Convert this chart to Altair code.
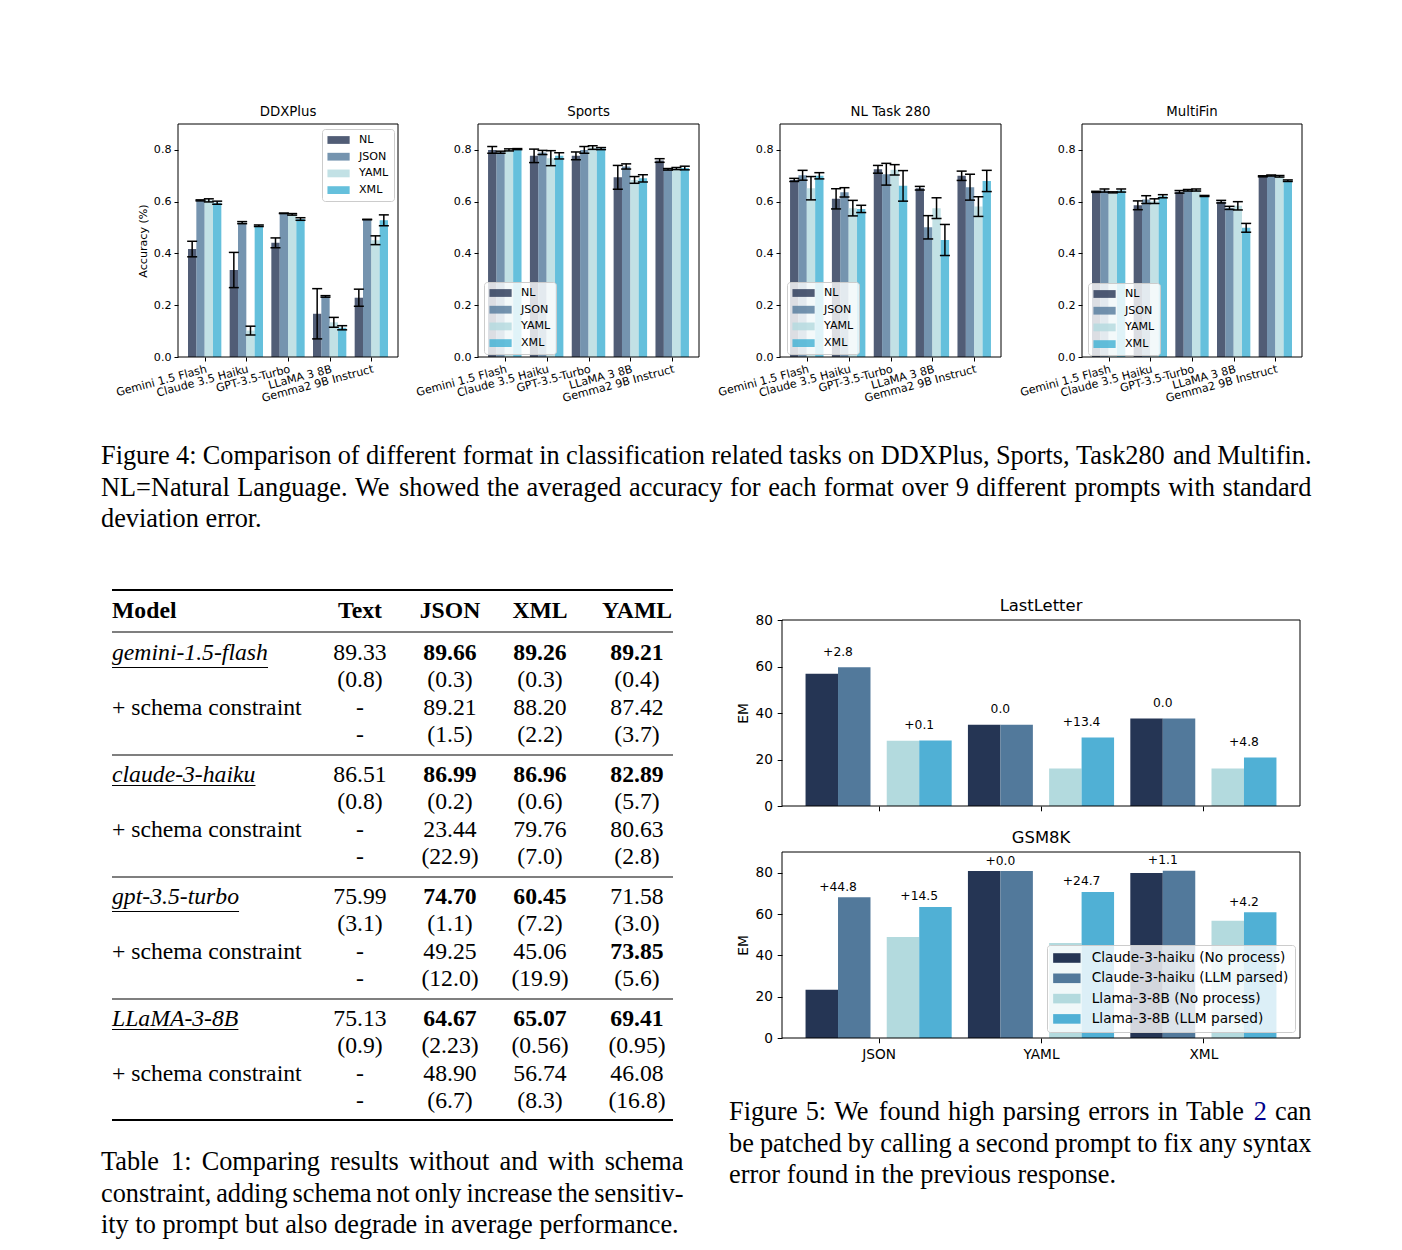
import json
import altair as alt
import pandas as pd

# ======================= DATA: Figure 4 =======================
MODELS4 = ["Gemini 1.5 Flash", "Claude 3.5 Haiku", "GPT-3.5-Turbo", "LLaMA 3 8B", "Gemma2 9B Instruct"]
FORMATS4 = ["NL", "JSON", "YAML", "XML"]
TASKS4 = ["DDXPlus", "Sports", "NL Task 280", "MultiFin"]

ddxplus_nl = [0.417, 0.336, 0.441, 0.167, 0.229]
ddxplus_nl_sd = [0.030, 0.068, 0.019, 0.097, 0.033]
ddxplus_json = [0.605, 0.519, 0.555, 0.234, 0.531]
ddxplus_json_sd = [0.002, 0.004, 0.001, 0.003, 0.001]
ddxplus_yaml = [0.605, 0.102, 0.551, 0.134, 0.451]
ddxplus_yaml_sd = [0.006, 0.017, 0.003, 0.019, 0.017]
ddxplus_xml = [0.596, 0.507, 0.533, 0.113, 0.528]
ddxplus_xml_sd = [0.006, 0.003, 0.005, 0.008, 0.021]

sports_nl = [0.800, 0.777, 0.777, 0.694, 0.759]
sports_nl_sd = [0.013, 0.026, 0.015, 0.046, 0.007]
sports_json = [0.791, 0.790, 0.800, 0.736, 0.725]
sports_json_sd = [0.004, 0.008, 0.013, 0.010, 0.003]
sports_yaml = [0.800, 0.768, 0.809, 0.684, 0.728]
sports_yaml_sd = [0.004, 0.029, 0.007, 0.013, 0.004]
sports_xml = [0.803, 0.777, 0.805, 0.690, 0.730]
sports_xml_sd = [0.002, 0.012, 0.004, 0.014, 0.007]

task280_nl = [0.684, 0.611, 0.725, 0.652, 0.700]
task280_nl_sd = [0.006, 0.039, 0.015, 0.007, 0.018]
task280_json = [0.702, 0.636, 0.706, 0.501, 0.656]
task280_json_sd = [0.019, 0.018, 0.042, 0.045, 0.050]
task280_yaml = [0.652, 0.575, 0.723, 0.575, 0.581]
task280_yaml_sd = [0.045, 0.030, 0.020, 0.040, 0.038]
task280_xml = [0.700, 0.572, 0.661, 0.452, 0.680]
task280_xml_sd = [0.012, 0.014, 0.059, 0.060, 0.041]

multifin_nl = [0.638, 0.586, 0.638, 0.600, 0.698]
multifin_nl_sd = [0.002, 0.017, 0.005, 0.005, 0.002]
multifin_json = [0.643, 0.608, 0.644, 0.576, 0.701]
multifin_json_sd = [0.006, 0.015, 0.003, 0.006, 0.002]
multifin_yaml = [0.636, 0.602, 0.645, 0.584, 0.698]
multifin_yaml_sd = [0.002, 0.009, 0.004, 0.016, 0.003]
multifin_xml = [0.643, 0.621, 0.622, 0.499, 0.681]
multifin_xml_sd = [0.006, 0.006, 0.002, 0.017, 0.003]

# ======================= DATA: Figure 5 =======================
FORMATS5 = ["JSON", "YAML", "XML"]
SERIES5 = ["Claude-3-haiku (No process)", "Claude-3-haiku (LLM parsed)",
           "Llama-3-8B (No process)", "Llama-3-8B (LLM parsed)"]

lastletter_claude_raw = [56.9, 35.0, 37.6]
lastletter_claude_parsed = [59.7, 35.0, 37.6]
lastletter_llama_raw = [28.1, 16.1, 16.1]
lastletter_llama_parsed = [28.2, 29.5, 20.9]
lastletter_claude_gain = ["+2.8", "0.0", "0.0"]
lastletter_llama_gain = ["+0.1", "+13.4", "+4.8"]

gsm8k_claude_raw = [23.3, 80.8, 79.8]
gsm8k_claude_parsed = [68.1, 80.8, 80.9]
gsm8k_llama_raw = [48.9, 46.0, 56.7]
gsm8k_llama_parsed = [63.4, 70.7, 60.9]
gsm8k_claude_gain = ["+44.8", "+0.0", "+1.1"]
gsm8k_llama_gain = ["+14.5", "+24.7", "+4.2"]

# ======================= DATA: Table 1 =======================
TABLE_HEADER = ["Model", "Text", "JSON", "XML", "YAML"]
table_models = ["gemini-1.5-flash", "claude-3-haiku", "gpt-3.5-turbo", "LLaMA-3-8B"]
table_schema_label = "+ schema constraint"
text_mean = ["89.33", "86.51", "75.99", "75.13"]
text_sd = ["(0.8)", "(0.8)", "(3.1)", "(0.9)"]
json_mean = ["89.66", "86.99", "74.70", "64.67"]
json_sd = ["(0.3)", "(0.2)", "(1.1)", "(2.23)"]
xml_mean = ["89.26", "86.96", "60.45", "65.07"]
xml_sd = ["(0.3)", "(0.6)", "(7.2)", "(0.56)"]
yaml_mean = ["89.21", "82.89", "71.58", "69.41"]
yaml_sd = ["(0.4)", "(5.7)", "(3.0)", "(0.95)"]
schema_json_mean = ["89.21", "23.44", "49.25", "48.90"]
schema_json_sd = ["(1.5)", "(22.9)", "(12.0)", "(6.7)"]
schema_xml_mean = ["88.20", "79.76", "45.06", "56.74"]
schema_xml_sd = ["(2.2)", "(7.0)", "(19.9)", "(8.3)"]
schema_yaml_mean = ["87.42", "80.63", "73.85", "46.08"]
schema_yaml_sd = ["(3.7)", "(2.8)", "(5.6)", "(16.8)"]
bold_plain = [[1, 1, 1], [1, 1, 1], [1, 1, 0], [1, 1, 1]]     # JSON, XML, YAML
bold_schema = [[0, 0, 0], [0, 0, 0], [0, 0, 1], [0, 0, 0]]

# ======================= CAPTIONS =======================
caption_fig4 = [
    "Figure 4: Comparison of different format in classification related tasks on DDXPlus, Sports, Task280 and Multifin.",
    "NL=Natural Language. We showed the averaged accuracy for each format over 9 different prompts with standard",
    "deviation error.",
]
caption_tab1 = [
    "Table 1: Comparing results without and with schema",
    "constraint, adding schema not only increase the sensitiv-",
    "ity to prompt but also degrade in average performance.",
]
caption_fig5 = [
    "Figure 5: We found high parsing errors in Table 2 can",
    "be patched by calling a second prompt to fix any syntax",
    "error found in the previous response.",
]

# ======================= LAYOUT / STYLE =======================
OX, OY = 178, 124          # page position of the drawing origin
W, H = 1124, 914
FONT_SANS = "DejaVu Sans"
FONT_SERIF = "Liberation Serif"
LINK_BLUE = "#00008c"


def rx(a):
    return a - OX


def ry(a):
    return a - OY


COLORS4 = ["#253554", "#52799b", "#b3dade", "#3fb0d3"]
COLORS5 = ["#253554", "#52799b", "#b3dade", "#50b0d5"]
TOP_XDOM = [-0.64, 4.64]
TOP_YDOM = [0, 0.9]
TOP_TOP, TOP_BOT = 124, 357
TOP_LR = [(178, 398), (478, 699), (780, 1001), (1082, 1302)]
TOP_LEGEND_XY = [(322, 129), (484, 282), (787, 282), (1088, 283)]
TOP_FS = 11.1

BOT_L, BOT_R = 782, 1300
BOT_XDOM = [-0.595, 2.595]
BOT_FS = 13.7

SYMBOL_PATH = "M-1,-0.7H3V0.7H-1Z"

TIMES = {' ': 250, '!': 333, '(': 333, ')': 333, '+': 564, ',': 250, '-': 333, '.': 250,
         ':': 278, '=': 564, '%': 833,
         'A': 722, 'B': 667, 'C': 667, 'D': 722, 'E': 611, 'F': 556, 'G': 722, 'H': 722,
         'I': 333, 'J': 389, 'K': 722, 'L': 611, 'M': 889, 'N': 722, 'O': 722, 'P': 556,
         'Q': 722, 'R': 667, 'S': 556, 'T': 611, 'U': 722, 'V': 722, 'W': 944, 'X': 722,
         'Y': 722, 'Z': 611,
         'a': 444, 'b': 500, 'c': 444, 'd': 500, 'e': 444, 'f': 333, 'g': 500, 'h': 500,
         'i': 278, 'j': 278, 'k': 500, 'l': 278, 'm': 778, 'n': 500, 'o': 500, 'p': 500,
         'q': 500, 'r': 333, 's': 389, 't': 278, 'u': 500, 'v': 500, 'w': 722, 'x': 500,
         'y': 500, 'z': 444}
TIMES_ITALIC = {'a': 500, 'b': 500, 'c': 444, 'd': 500, 'e': 444, 'f': 278, 'g': 500,
                'h': 500, 'i': 278, 'k': 444, 'l': 278, 'm': 722, 'n': 500, 'o': 500,
                'p': 500, 'r': 389, 's': 389, 't': 278, 'u': 500, '-': 333, '.': 250,
                'A': 611, 'B': 611, 'L': 556, 'M': 833}


def text_width(s, fs, table=TIMES):
    return sum(table.get(ch, 500) for ch in s) / 1000.0 * fs


def one_row():
    return pd.DataFrame({"a": [0]})


# ======================= FIGURE 4 PANELS =======================
TOP_SERIES = [
    {"NL": (ddxplus_nl, ddxplus_nl_sd), "JSON": (ddxplus_json, ddxplus_json_sd),
     "YAML": (ddxplus_yaml, ddxplus_yaml_sd), "XML": (ddxplus_xml, ddxplus_xml_sd)},
    {"NL": (sports_nl, sports_nl_sd), "JSON": (sports_json, sports_json_sd),
     "YAML": (sports_yaml, sports_yaml_sd), "XML": (sports_xml, sports_xml_sd)},
    {"NL": (task280_nl, task280_nl_sd), "JSON": (task280_json, task280_json_sd),
     "YAML": (task280_yaml, task280_yaml_sd), "XML": (task280_xml, task280_xml_sd)},
    {"NL": (multifin_nl, multifin_nl_sd), "JSON": (multifin_json, multifin_json_sd),
     "YAML": (multifin_yaml, multifin_yaml_sd), "XML": (multifin_xml, multifin_xml_sd)},
]


def top_panel(k):
    l, r = TOP_LR[k]
    rows = []
    for fi, fmt in enumerate(FORMATS4):
        means, sds = TOP_SERIES[k][fmt]
        for mi, m in enumerate(MODELS4):
            rows.append({"model": m, "mi": mi, "fmt": fmt, "fi": fi,
                         "acc": means[mi], "sd": sds[mi]})
    df = pd.DataFrame(rows)

    def xs():
        return alt.Scale(domain=TOP_XDOM, range=[rx(l), rx(r)], nice=False, zero=False)

    def ys():
        return alt.Scale(domain=TOP_YDOM, range=[ry(TOP_BOT), ry(TOP_TOP)], nice=False, zero=False)

    xaxis = alt.Axis(orient="bottom", offset=ry(TOP_BOT) - H, values=list(range(len(MODELS4))),
                     labelExpr=json.dumps(MODELS4) + "[datum.value]", labelAngle=345,
                     labelAlign="right", labelBaseline="top", labelFontSize=TOP_FS,
                     labelPadding=2, tickSize=4, labelOverlap=False, labelFlush=False,
                     title=None)
    ykw = dict(orient="left", offset=-rx(l), values=[0, 0.2, 0.4, 0.6, 0.8], format=".1f",
               labelFontSize=TOP_FS, tickSize=4, labelPadding=3)
    if k == 0:
        yaxis = alt.Axis(title="Accuracy (%)", titleFontSize=TOP_FS, titlePadding=5, **ykw)
    else:
        yaxis = alt.Axis(title=None, **ykw)
    lx, ly = TOP_LEGEND_XY[k]
    legend = alt.Legend(title=None, orient="none", legendX=rx(lx), legendY=ry(ly),
                        symbolType=SYMBOL_PATH, symbolSize=TOP_FS ** 2, symbolStrokeWidth=0,
                        symbolOpacity=0.8, labelFontSize=TOP_FS, labelFont=FONT_SANS,
                        labelColor="black", labelOffset=20, rowPadding=4.7, padding=5,
                        fillColor="rgba(255,255,255,0.8)", strokeColor="#cccccc",
                        cornerRadius=3)
    base = alt.Chart(df).transform_calculate(
        pos="datum.mi + (datum.fi - 1.5) * 0.2"
    ).transform_calculate(
        bx0="datum.pos - 0.1", bx1="datum.pos + 0.1",
        cx0="datum.pos - 0.12", cx1="datum.pos + 0.12",
        lo="datum.acc - datum.sd", hi="datum.acc + datum.sd",
    )
    bars = base.mark_rect(opacity=0.8).encode(
        x=alt.X("bx0:Q", scale=xs(), axis=xaxis), x2="bx1:Q",
        y=alt.Y("acc:Q", scale=ys(), axis=yaxis), y2=alt.Y2Datum(0),
        color=alt.Color("fmt:N", scale=alt.Scale(domain=FORMATS4, range=COLORS4), legend=legend),
    )
    err = base.mark_rule(color="black", strokeWidth=1.5).encode(
        x=alt.X("pos:Q", scale=xs(), axis=None),
        y=alt.Y("lo:Q", scale=ys(), axis=None), y2="hi:Q")
    cap_hi = base.mark_rule(color="black", strokeWidth=1.5).encode(
        x=alt.X("cx0:Q", scale=xs(), axis=None), x2="cx1:Q",
        y=alt.Y("hi:Q", scale=ys(), axis=None))
    cap_lo = base.mark_rule(color="black", strokeWidth=1.5).encode(
        x=alt.X("cx0:Q", scale=xs(), axis=None), x2="cx1:Q",
        y=alt.Y("lo:Q", scale=ys(), axis=None))
    frame = alt.Chart(one_row()).mark_rect(
        fillOpacity=0, stroke="black", strokeWidth=1).encode(
        x=alt.XDatum(TOP_XDOM[0], scale=xs(), axis=None), x2=alt.X2Datum(TOP_XDOM[1]),
        y=alt.YDatum(TOP_YDOM[0], scale=ys(), axis=None), y2=alt.Y2Datum(TOP_YDOM[1]))
    title = alt.Chart(pd.DataFrame({"t": [TASKS4[k]]})).mark_text(
        font=FONT_SANS, fontSize=13.3, baseline="middle", color="black", dy=-12).encode(
        x=alt.XDatum(sum(TOP_XDOM) / 2, scale=xs(), axis=None),
        y=alt.YDatum(TOP_YDOM[1], scale=ys(), axis=None), text="t:N")
    return [bars, err, cap_hi, cap_lo, frame, title]


# ======================= FIGURE 5 PANELS =======================
def bottom_panel(name, top, bot, ymax, c_raw, c_par, l_raw, l_par, c_gain, l_gain,
                 show_labels, legend_xy, ann_dy):
    rows = []
    for gi, f in enumerate(FORMATS5):
        for si, (s, vals) in enumerate(zip(SERIES5, [c_raw, c_par, l_raw, l_par])):
            rows.append({"fmt": f, "gi": gi, "series": s, "si": si, "em": vals[gi]})
    df = pd.DataFrame(rows)
    ann_rows = []
    for gi in range(len(FORMATS5)):
        ann_rows.append({"gi": gi, "pair": 0, "label": c_gain[gi], "top": max(c_raw[gi], c_par[gi])})
        ann_rows.append({"gi": gi, "pair": 1, "label": l_gain[gi], "top": max(l_raw[gi], l_par[gi])})
    ann = pd.DataFrame(ann_rows)

    def xs():
        return alt.Scale(domain=BOT_XDOM, range=[rx(BOT_L), rx(BOT_R)], nice=False, zero=False)

    def ys():
        return alt.Scale(domain=[0, ymax], range=[ry(bot), ry(top)], nice=False, zero=False)

    xkw = dict(orient="bottom", offset=ry(bot) - H, values=[0, 1, 2], tickSize=4.8,
               labelPadding=4.8, labelFontSize=BOT_FS, labelFlush=False, title=None)
    if show_labels:
        xaxis = alt.Axis(labelExpr=json.dumps(FORMATS5) + "[datum.value]", **xkw)
    else:
        xaxis = alt.Axis(labels=False, **xkw)
    yaxis = alt.Axis(orient="left", offset=-rx(BOT_L), values=[0, 20, 40, 60, 80],
                     labelFontSize=BOT_FS, tickSize=4.8, labelPadding=4.8, title="EM",
                     titleFontSize=BOT_FS, titlePadding=4)
    if legend_xy is None:
        legend = None
    else:
        legend = alt.Legend(title=None, orient="none", legendX=rx(legend_xy[0]),
                            legendY=ry(legend_xy[1]), symbolType=SYMBOL_PATH,
                            symbolSize=BOT_FS ** 2, symbolStrokeWidth=0, labelFontSize=BOT_FS,
                            labelFont=FONT_SANS, labelColor="black", labelOffset=24.7,
                            rowPadding=6.3, padding=6, labelLimit=400,
                            fillColor="rgba(255,255,255,0.8)", strokeColor="#cccccc",
                            cornerRadius=3)
    color = alt.Color("series:N", scale=alt.Scale(domain=SERIES5, range=COLORS5), legend=legend)
    bars = alt.Chart(df).transform_calculate(
        pos="datum.gi + (datum.si < 2 ? -0.35 + 0.2 * datum.si : -0.25 + 0.2 * datum.si)"
    ).transform_calculate(
        bx0="datum.pos - 0.1", bx1="datum.pos + 0.1"
    ).mark_rect().encode(
        x=alt.X("bx0:Q", scale=xs(), axis=xaxis), x2="bx1:Q",
        y=alt.Y("em:Q", scale=ys(), axis=yaxis), y2=alt.Y2Datum(0),
        color=color,
    )
    labels = alt.Chart(ann).transform_calculate(
        ax="datum.gi + (datum.pair == 0 ? -0.25 : 0.25)"
    ).mark_text(font=FONT_SANS, fontSize=12.3, baseline="middle", color="black", dy=ann_dy).encode(
        x=alt.X("ax:Q", scale=xs(), axis=None), y=alt.Y("top:Q", scale=ys(), axis=None),
        text="label:N")
    frame = alt.Chart(one_row()).mark_rect(
        fillOpacity=0, stroke="black", strokeWidth=1).encode(
        x=alt.XDatum(BOT_XDOM[0], scale=xs(), axis=None), x2=alt.X2Datum(BOT_XDOM[1]),
        y=alt.YDatum(0, scale=ys(), axis=None), y2=alt.Y2Datum(ymax))
    title = alt.Chart(pd.DataFrame({"t": [name]})).mark_text(
        font=FONT_SANS, fontSize=16.4, baseline="middle", color="black", dy=-14).encode(
        x=alt.XDatum(sum(BOT_XDOM) / 2, scale=xs(), axis=None),
        y=alt.YDatum(ymax, scale=ys(), axis=None), text="t:N")
    return [bars, labels, frame, title]


# ======================= TEXT: table + captions =======================
CAP_FS = 26.3
TAB_FS = 23.7
CAP_LEAD = 31.6
TAB_X_LEFT, TAB_X_RIGHT = 112, 673
TAB_COLS = [360, 450, 540, 637]
TAB_Y_HEAD = 611
TAB_Y_BLOCK0, TAB_BLOCK_STEP, TAB_LINE_STEP = 653, 122, 27.3


def caption_records(lines, x0, x1, y0, blue=()):
    recs = []
    space = text_width(" ", CAP_FS)
    for li, line in enumerate(lines):
        words = line.split(" ")
        widths = [text_width(w, CAP_FS) for w in words]
        if li < len(lines) - 1 and len(words) > 1:
            gap = (x1 - x0 - sum(widths)) / (len(words) - 1)
        else:
            gap = space
        x = x0
        y = y0 + li * CAP_LEAD
        for wi, (w, wd) in enumerate(zip(words, widths)):
            col = LINK_BLUE if (li, wi) in blue else "black"
            recs.append({"text": w, "x": x, "y": y, "fs": CAP_FS, "col": col})
            x += wd + gap
    return recs


left_normal, left_bold, left_italic, center_normal, center_bold = [], [], [], [], []
left_normal += caption_records(caption_fig4, 101, 1311.5, 456)
left_normal += caption_records(caption_tab1, 101, 683.5, 1162)
blue_idx = {(0, caption_fig5[0].split(" ").index("2"))}
left_normal += caption_records(caption_fig5, 729, 1311.5, 1112, blue=blue_idx)


def tcell(lst, text, x, y):
    lst.append({"text": text, "x": x, "y": y, "fs": TAB_FS, "col": "black"})


tcell(left_bold, TABLE_HEADER[0], TAB_X_LEFT, TAB_Y_HEAD)
for ci, h in enumerate(TABLE_HEADER[1:]):
    tcell(center_bold, h, TAB_COLS[ci], TAB_Y_HEAD)

rule_rows = [
    {"x": TAB_X_LEFT, "x2": TAB_X_RIGHT, "y": 590, "sw": 2.0},
    {"x": TAB_X_LEFT, "x2": TAB_X_RIGHT, "y": 632, "sw": 1.2},
]
plain_cols = [(json_mean, json_sd), (xml_mean, xml_sd), (yaml_mean, yaml_sd)]
schema_cols = [(schema_json_mean, schema_json_sd), (schema_xml_mean, schema_xml_sd),
               (schema_yaml_mean, schema_yaml_sd)]
for b, model in enumerate(table_models):
    y0 = TAB_Y_BLOCK0 + b * TAB_BLOCK_STEP
    ys_ = [y0 + l * TAB_LINE_STEP for l in range(4)]
    tcell(left_italic, model, TAB_X_LEFT, ys_[0])
    tcell(left_normal, table_schema_label, TAB_X_LEFT, ys_[2])
    tcell(center_normal, text_mean[b], TAB_COLS[0], ys_[0])
    tcell(center_normal, text_sd[b], TAB_COLS[0], ys_[1])
    tcell(center_normal, "-", TAB_COLS[0], ys_[2])
    tcell(center_normal, "-", TAB_COLS[0], ys_[3])
    for ci in range(3):
        m, s = plain_cols[ci]
        tcell(center_bold if bold_plain[b][ci] else center_normal, m[b], TAB_COLS[ci + 1], ys_[0])
        tcell(center_normal, s[b], TAB_COLS[ci + 1], ys_[1])
        m2, s2 = schema_cols[ci]
        tcell(center_bold if bold_schema[b][ci] else center_normal, m2[b], TAB_COLS[ci + 1], ys_[2])
        tcell(center_normal, s2[b], TAB_COLS[ci + 1], ys_[3])
    ul_w = text_width(model, TAB_FS, TIMES_ITALIC)
    ul_dy = 14.5 if any(c in "gjpqy" for c in model) else 10.5
    rule_rows.append({"x": TAB_X_LEFT, "x2": TAB_X_LEFT + ul_w, "y": ys_[0] + ul_dy, "sw": 1.0})
    last = b == len(table_models) - 1
    rule_rows.append({"x": TAB_X_LEFT, "x2": TAB_X_RIGHT, "y": y0 + (101 if last else 102),
                      "sw": 2.0 if last else 1.2})


def txs():
    return alt.Scale(domain=[OX, OX + W], range=[0, W], nice=False, zero=False)


def tys():
    return alt.Scale(domain=[OY, OY + H], range=[0, H], nice=False, zero=False)


def text_layer(recs, align, weight, style):
    return alt.Chart(pd.DataFrame(recs)).mark_text(
        font=FONT_SERIF, align=align, baseline="middle", fontWeight=weight, fontStyle=style
    ).encode(
        x=alt.X("x:Q", scale=txs(), axis=None), y=alt.Y("y:Q", scale=tys(), axis=None),
        text="text:N", size=alt.Size("fs:Q", scale=None), color=alt.Color("col:N", scale=None))


rules = alt.Chart(pd.DataFrame(rule_rows)).mark_rule(color="black").encode(
    x=alt.X("x:Q", scale=txs(), axis=None), x2="x2:Q", y=alt.Y("y:Q", scale=tys(), axis=None),
    strokeWidth=alt.StrokeWidth("sw:Q", scale=None))
anchor = alt.Chart(one_row()).mark_rule(color="white", strokeWidth=1).encode(
    x=alt.value(-169.5), x2=alt.value(-168.5), y=alt.value(-115.5))

text_part = [
    anchor, rules,
    text_layer(left_normal, "left", "normal", "normal"),
    text_layer(left_bold, "left", "bold", "normal"),
    text_layer(left_italic, "left", "normal", "italic"),
    text_layer(center_normal, "center", "normal", "normal"),
    text_layer(center_bold, "center", "bold", "normal"),
]

lastletter = bottom_panel("LastLetter", 620, 806, 80,
                          lastletter_claude_raw, lastletter_claude_parsed,
                          lastletter_llama_raw, lastletter_llama_parsed,
                          lastletter_claude_gain, lastletter_llama_gain,
                          False, None, -15.5)
gsm8k = bottom_panel("GSM8K", 852, 1038, 90,
                     gsm8k_claude_raw, gsm8k_claude_parsed,
                     gsm8k_llama_raw, gsm8k_llama_parsed,
                     gsm8k_claude_gain, gsm8k_llama_gain,
                     True, (1047, 945), -10.5)

all_layers = text_part + top_panel(0) + top_panel(1) + top_panel(2) + top_panel(3) + lastletter + gsm8k

chart = alt.layer(*all_layers).resolve_scale(
    x="independent", y="independent", color="independent", size="independent",
    strokeWidth="independent"
).resolve_axis(
    x="independent", y="independent"
).resolve_legend(
    color="independent"
).properties(
    width=W, height=H, padding=0, autosize=alt.AutoSizeParams(type="pad")
).configure_view(
    strokeWidth=0
).configure_axis(
    domain=False, grid=False, labelColor="black", tickColor="black", titleColor="black",
    labelFont=FONT_SANS, titleFont=FONT_SANS, titleFontWeight="normal", tickWidth=1
).configure_legend(
    labelColor="black", labelFont=FONT_SANS
)

chart.save("out.html", embed_options={"renderer": "svg", "actions": False})
